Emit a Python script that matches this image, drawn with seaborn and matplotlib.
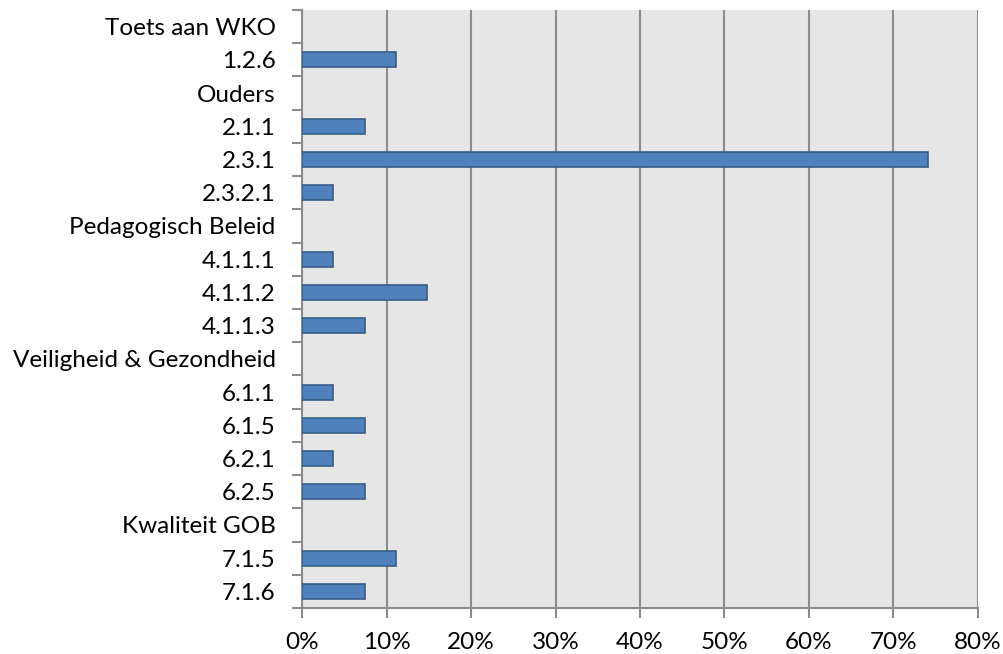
import numpy as np
import pandas as pd
import matplotlib
matplotlib.use("Agg")
import matplotlib.pyplot as plt
import seaborn as sns
from matplotlib.ticker import PercentFormatter

# categories (group headers have no value)
labels = ["Toets aan WKO", "1.2.6", "Ouders", "2.1.1", "2.3.1", "2.3.2.1",
          "Pedagogisch Beleid", "4.1.1.1", "4.1.1.2", "4.1.1.3",
          "Veiligheid & Gezondheid", "6.1.1", "6.1.5", "6.2.1", "6.2.5",
          "Kwaliteit GOB", "7.1.5", "7.1.6"]
values = [np.nan, 11.1, np.nan, 7.4, 74.1, 3.7,
          np.nan, 3.7, 14.8, 7.4,
          np.nan, 3.7, 7.4, 3.7, 7.4,
          np.nan, 11.1, 7.4]

df = pd.DataFrame({"label": labels, "value": values})

sns.set_style("white")
plt.rcParams["font.family"] = ["Lato", "DejaVu Sans"]

fig = plt.figure(figsize=(10.04, 6.54), dpi=100)
ax = fig.add_axes([0.3008, 0.0703, 0.6733, 0.9144])
ax.set_facecolor("#e6e6e6")

sns.barplot(data=df, x="value", y="label", orient="h", color="#4f81bd",
            edgecolor="#385d8a", linewidth=1.2, width=0.45, saturation=1,
            ax=ax, zorder=3)

ax.set_xlim(0, 80)
ax.set_ylim(len(labels) - 0.5, -0.5)
ax.set_xticks(np.arange(0, 81, 10))
ax.xaxis.set_major_formatter(PercentFormatter(decimals=0))
ax.grid(axis="x", color="#8c8c8c", linewidth=1.5, zorder=0)
ax.set_axisbelow(True)

# category ticks at boundaries, labels centered
ax.set_yticks(np.arange(len(labels)))
ax.set_yticklabels(labels)
ax.set_yticks(np.arange(len(labels) + 1) - 0.5, minor=True)
ax.tick_params(axis="y", which="major", left=True, length=0, pad=19,
               labelsize=17.5, labelcolor="black")
ax.tick_params(axis="y", which="minor", left=True, length=7, width=1.5, color="#8c8c8c")
ax.tick_params(axis="x", bottom=True, length=7, width=1.5, color="#8c8c8c", pad=10,
               labelsize=17.5, labelcolor="black")

for s in ["top", "right"]:
    ax.spines[s].set_visible(False)
for s in ["left", "bottom"]:
    ax.spines[s].set_color("#8c8c8c")
    ax.spines[s].set_linewidth(1.5)

ax.set_xlabel("")
ax.set_ylabel("")

fig.savefig("out.png", dpi=100)
